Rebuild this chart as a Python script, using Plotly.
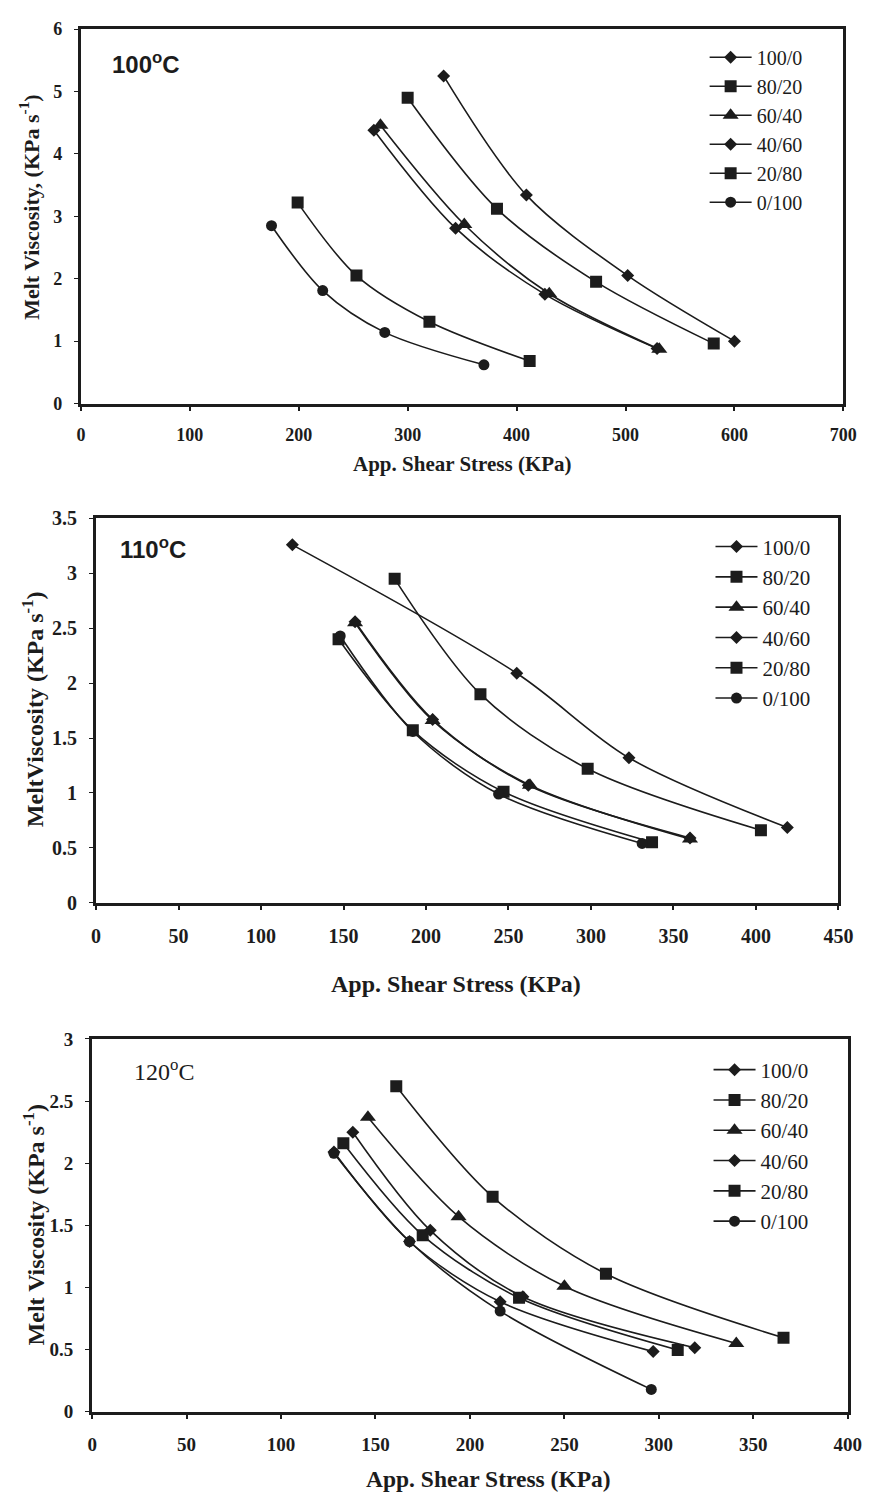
import plotly.graph_objects as go

W, H = 881, 1502          # browser window
M = 8                     # default page body margin
FW, FH = W - 2 * M, H - 2 * M   # figure size so the page fits the window exactly

series_names = ["100/0", "80/20", "60/40", "40/60", "20/80", "0/100"]
symbols = ["diamond", "square", "triangle-up", "diamond", "square", "circle"]
marker_sizes = [10, 12, 14, 10, 12, 11]

# ---- 100 C ----
x100_1000 = [333, 409, 502, 600]
y100_1000 = [5.25, 3.34, 2.05, 1.00]
x100_8020 = [300, 382, 473, 581]
y100_8020 = [4.90, 3.12, 1.95, 0.96]
x100_6040 = [275, 352, 430, 531]
y100_6040 = [4.46, 2.87, 1.76, 0.87]
x100_4060 = [269, 344, 426, 529]
y100_4060 = [4.38, 2.81, 1.75, 0.88]
x100_2080 = [199, 253, 320, 412]
y100_2080 = [3.22, 2.05, 1.31, 0.68]
x100_0100 = [175, 222, 279, 370]
y100_0100 = [2.85, 1.81, 1.14, 0.62]

# ---- 110 C ----
x110_1000 = [119, 255, 323, 419]
y110_1000 = [3.26, 2.09, 1.32, 0.685]
x110_8020 = [181, 233, 298, 403]
y110_8020 = [2.95, 1.90, 1.22, 0.66]
x110_6040 = [157, 204, 263, 360]
y110_6040 = [2.55, 1.66, 1.07, 0.58]
x110_4060 = [157, 204, 262, 360]
y110_4060 = [2.56, 1.67, 1.07, 0.59]
x110_2080 = [147, 192, 247, 337]
y110_2080 = [2.40, 1.57, 1.01, 0.55]
x110_0100 = [148, 192, 244, 331]
y110_0100 = [2.43, 1.56, 0.99, 0.54]

# ---- 120 C ----
x120_1000 = [128, 168, 216, 297]
y120_1000 = [2.09, 1.37, 0.885, 0.484]
x120_8020 = [161, 212, 272, 366]
y120_8020 = [2.62, 1.73, 1.11, 0.595]
x120_6040 = [146, 194, 250, 341]
y120_6040 = [2.37, 1.57, 1.01, 0.55]
x120_4060 = [138, 179, 228, 319]
y120_4060 = [2.25, 1.46, 0.925, 0.515]
x120_2080 = [133, 175, 226, 310]
y120_2080 = [2.16, 1.42, 0.917, 0.497]
x120_0100 = [128, 168, 216, 296]
y120_0100 = [2.08, 1.37, 0.81, 0.18]

panels = [
    dict(xs=[x100_1000, x100_8020, x100_6040, x100_4060, x100_2080, x100_0100],
         ys=[y100_1000, y100_8020, y100_6040, y100_4060, y100_2080, y100_0100],
         xrange=[0, 700], xdtick=100, yrange=[0, 6], ydtick=1,
         ytitle="Melt Viscosity, (KPa s<sup>-1</sup>)", label="100<sup>o</sup>C"),
    dict(xs=[x110_1000, x110_8020, x110_6040, x110_4060, x110_2080, x110_0100],
         ys=[y110_1000, y110_8020, y110_6040, y110_4060, y110_2080, y110_0100],
         xrange=[0, 450], xdtick=50, yrange=[0, 3.5], ydtick=0.5,
         ytitle="MeltViscosity (KPa s<sup>-1</sup>)", label="110<sup>o</sup>C"),
    dict(xs=[x120_1000, x120_8020, x120_6040, x120_4060, x120_2080, x120_0100],
         ys=[y120_1000, y120_8020, y120_6040, y120_4060, y120_2080, y120_0100],
         xrange=[0, 400], xdtick=50, yrange=[0, 3], ydtick=0.5,
         ytitle="Melt Viscosity (KPa s<sup>-1</sup>)", label="120<sup>o</sup>C"),
]
x_title = "App. Shear Stress (KPa)"

# ---- layout geometry (window pixels) ----
boxes = [  # left, right, top, bottom
    (77.5, 858, 18.3, 398.3),
    (93, 853, 515, 905),
    (89, 862.5, 1043.3, 1421.7),
]
xtitle_pos = [(468, 460, 21), (461, 987, 24), (495, 1490, 23.5)]
ytitle_pos = [(25, 199, 22), (28, 709, 24), (29, 1232, 24)]
label_pos = [(107, 53, 24, "Liberation Sans", "bold"),
             (115, 545, 24, "Liberation Sans", "bold"),
             (130, 1075, 24, "Liberation Serif", "normal")]
tick_sizes = [18, 20, 19]
legend_pos = [(716, 27, 20), (722, 523, 21), (720, 1054, 21)]

def px(x):
    return (x - M) / FW

def py(y):
    return 1 - (y - M) / FH

INK = "#1c1c1c"
fig = go.Figure()
annotations = []
layout = {}
for i, p in enumerate(panels):
    n = "" if i == 0 else str(i + 1)
    lg = "legend" if i == 0 else "legend" + str(i + 1)
    for k in range(6):
        fig.add_trace(go.Scatter(
            x=p["xs"][k], y=p["ys"][k], name=series_names[k],
            mode="lines+markers",
            line=dict(color=INK, width=1.6, shape="spline", smoothing=0.9),
            marker=dict(symbol=symbols[k], size=marker_sizes[k], color=INK),
            xaxis="x" + n, yaxis="y" + n, legend=lg,
        ))
    l, r, t, b = boxes[i]
    ts = tick_sizes[i]
    layout["xaxis" + n] = dict(
        domain=[px(l), px(r)], range=p["xrange"], dtick=p["xdtick"], tick0=0,
        anchor="y" + n, showgrid=False, zeroline=False, showline=True, mirror=True,
        linecolor=INK, linewidth=3, ticks="outside", ticklen=4, tickwidth=2,
        tickcolor=INK, ticklabelstandoff=9,
        tickfont=dict(family="Liberation Serif", size=ts, color=INK, weight="bold"),
    )
    layout["yaxis" + n] = dict(
        domain=[py(b), py(t)], range=p["yrange"], dtick=p["ydtick"], tick0=0,
        anchor="x" + n, showgrid=False, zeroline=False, showline=True, mirror=True,
        linecolor=INK, linewidth=3, ticks="outside", ticklen=4, tickwidth=1,
        tickcolor=INK, ticklabelstandoff=8,
        tickfont=dict(family="Liberation Serif", size=ts, color=INK, weight="bold"),
    )
    lx, ly, lf = legend_pos[i]
    layout[lg] = dict(
        x=px(lx), y=py(ly), xanchor="left", yanchor="top",
        bgcolor="rgba(0,0,0,0)", borderwidth=0, itemwidth=42,
        font=dict(family="Liberation Serif", size=lf, color=INK),
    )
    tx, tyy, tf = xtitle_pos[i]
    annotations.append(dict(
        text=x_title, x=px(tx), y=py(tyy), xref="paper", yref="paper",
        showarrow=False, xanchor="center", yanchor="middle",
        font=dict(family="Liberation Serif", size=tf, color=INK, weight="bold"),
    ))
    yx, yy, yf = ytitle_pos[i]
    annotations.append(dict(
        text=p["ytitle"], x=px(yx), y=py(yy), xref="paper", yref="paper",
        showarrow=False, xanchor="center", yanchor="middle", textangle=-90,
        font=dict(family="Liberation Serif", size=yf, color=INK, weight="bold"),
    ))
    lbx, lby, lbf, fam, wt = label_pos[i]
    annotations.append(dict(
        text=p["label"], x=px(lbx), y=py(lby), xref="paper", yref="paper",
        showarrow=False, xanchor="left", yanchor="middle",
        font=dict(family=fam, size=lbf, color=INK, weight=wt),
    ))

fig.update_layout(
    width=FW, height=FH, margin=dict(l=0, r=0, t=0, b=0),
    paper_bgcolor="white", plot_bgcolor="white",
    annotations=annotations, **layout,
)
fig.write_html("out.html")
